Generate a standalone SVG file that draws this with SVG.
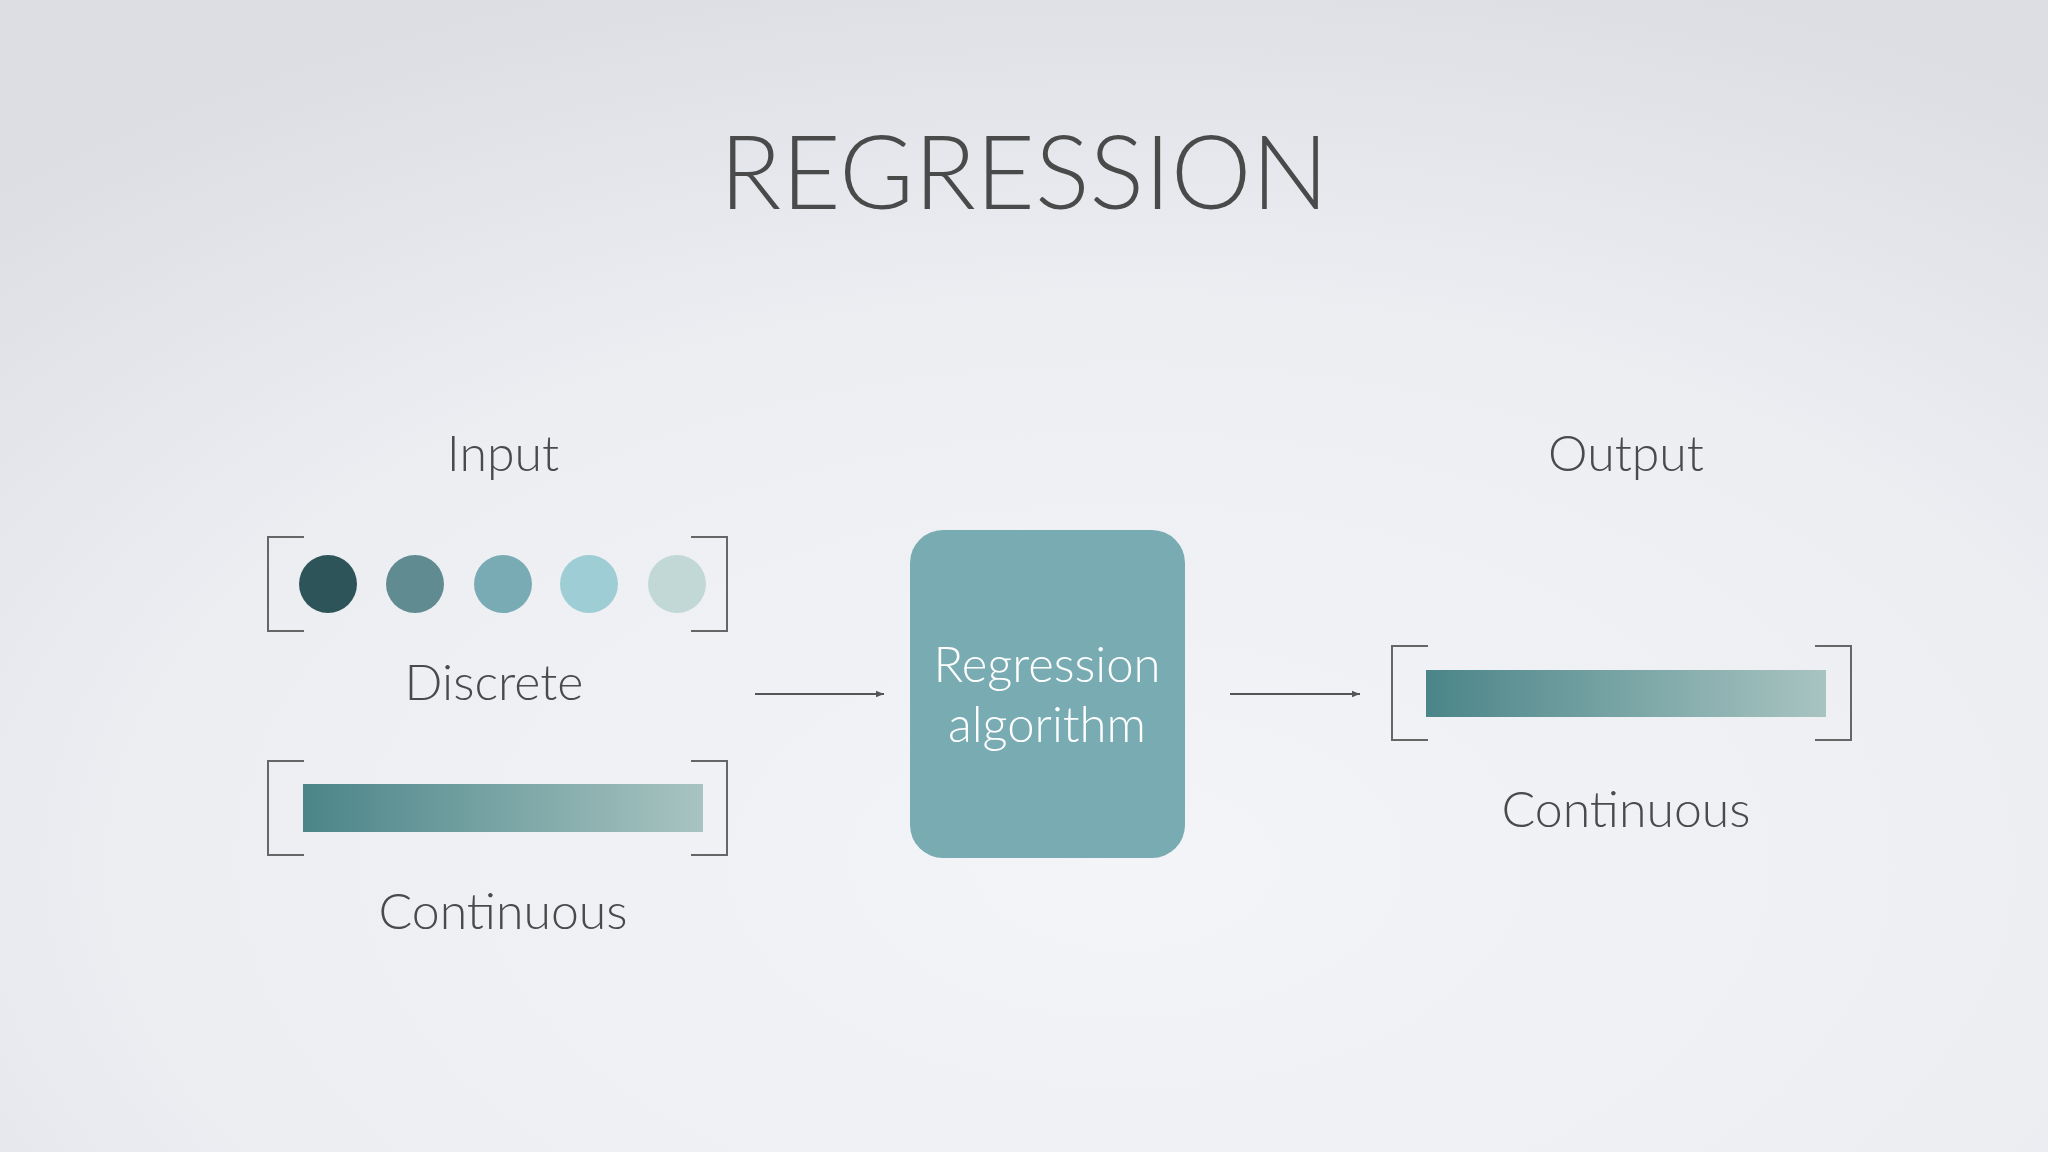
<svg xmlns="http://www.w3.org/2000/svg" width="2048" height="1152" viewBox="0 0 2048 1152">
<defs>
<radialGradient id="bg" cx="0.55" cy="0.75" r="0.8">
<stop offset="0" stop-color="#f3f4f7"/><stop offset="0.6" stop-color="#eceef2"/><stop offset="1" stop-color="#dcdee4"/>
</radialGradient>
<linearGradient id="bar" x1="0" y1="0" x2="1" y2="0">
<stop offset="0" stop-color="#4b8589"/><stop offset="1" stop-color="#a8c4c1"/>
</linearGradient>
<marker id="ah" viewBox="0 0 10 10" refX="10" refY="5" markerWidth="8" markerHeight="8" markerUnits="userSpaceOnUse" orient="auto"><path d="M0,1 L10,5 L0,9 z" fill="#555"/></marker>
</defs>
<style>
text{font-family:Lato,"Open Sans","Liberation Sans",sans-serif;font-weight:300;fill:#4a4a4a;text-anchor:middle}
.lbl{font-size:50px}
.br{fill:none;stroke:#666;stroke-width:2}
.w{fill:#fff;font-size:49px}
</style>
<rect width="2048" height="1152" fill="url(#bg)"/>
<text x="1024" y="209" style="font-size:102px">REGRESSION</text>
<g id="input">
<text class="lbl" x="503" y="471">Input</text>
<path class="br" d="M304,537 H268 V631 H304 M691,537 H727 V631 H691"/>
<circle cx="328" cy="584" r="29" fill="#2d5559"/>
<circle cx="415" cy="584" r="29" fill="#5f8b91"/>
<circle cx="503" cy="584" r="29" fill="#79abb5"/>
<circle cx="589" cy="584" r="29" fill="#9ecdd5"/>
<circle cx="677" cy="584" r="29" fill="#c2d8d6"/>
<text class="lbl" x="494" y="700">Discrete</text>
<path class="br" d="M304,761 H268 V855 H304 M691,761 H727 V855 H691"/>
<rect x="303" y="784" width="400" height="48" fill="url(#bar)"/>
<text class="lbl" x="503" y="929">Continuous</text>
</g>
<g id="algo">
<rect x="910" y="530" width="275" height="328" rx="33" fill="#78abb2"/>
<text class="w" x="1047" y="682">Regression</text>
<text class="w" x="1047" y="742">algorithm</text>
</g>
<g id="output">
<text class="lbl" x="1626" y="471">Output</text>
<path class="br" d="M1428,646 H1392 V740 H1428 M1815,646 H1851 V740 H1815"/>
<rect x="1426" y="670" width="400" height="47" fill="url(#bar)"/>
<text class="lbl" x="1626" y="827">Continuous</text>
</g>
<g id="connectors" stroke="#555" stroke-width="2">
<line x1="755" y1="694" x2="884" y2="694" marker-end="url(#ah)"/>
<line x1="1230" y1="694" x2="1360" y2="694" marker-end="url(#ah)"/>
</g>
</svg>
